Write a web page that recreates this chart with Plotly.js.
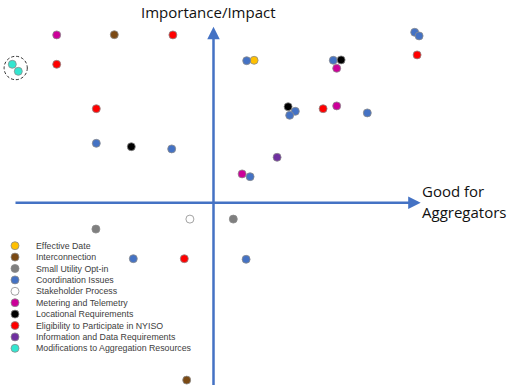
<!DOCTYPE html>
<html>
<head>
<meta charset="utf-8">
<script src="https://cdn.plot.ly/plotly-3.0.1.min.js"></script>
<style>html,body{margin:0;padding:0;background:#fff;}#chart{width:512px;height:385px;}</style>
</head>
<body>
<div id="chart"></div>
<script>
// Categories (legend order) and colours
const categories = [
  "Effective Date",
  "Interconnection",
  "Small Utility Opt-in",
  "Coordination Issues",
  "Stakeholder Process",
  "Metering and Telemetry",
  "Locational Requirements",
  "Eligibility to Participate in NYISO",
  "Information and Data Requirements",
  "Modifications to Aggregation Resources"
];
const colors = ["#FFC000","#7B4A14","#7F7F7F","#4472C4","#FFFFFF","#CC0099","#000000","#FF0000","#7030A0","#33E6D0"];

// x = Good for Aggregators, y = Importance/Impact
const effectiveX = [2.03];            const effectiveY = [7.12];
const interconnX = [-4.96, -1.34];    const interconnY = [8.40, -8.87];
const smallUtilX = [-5.88, 0.99];     const smallUtilY = [-1.32, -0.82];
const coordX = [1.66, -5.86, -2.09, 1.83, 10.06, 10.28, 5.99, 4.09, 3.81, 7.69, -4.01, 1.63];
const coordY = [7.10, 2.97, 2.69, 1.30, 8.52, 8.34, 7.12, 4.57, 4.37, 4.49, -2.80, -2.83];
const stakeX = [-1.18];               const stakeY = [-0.82];
const meterX = [-7.84, 1.43, 6.16, 6.16]; const meterY = [8.39, 1.44, 6.72, 4.84];
const locX = [-4.11, 6.38, 3.73];     const locY = [2.80, 7.14, 4.80];
const eligX = [-2.03, -7.84, -5.86, 10.18, 5.48, -1.46];
const eligY = [8.39, 6.92, 4.70, 7.39, 4.70, -2.80];
const infoX = [3.18];                 const infoY = [2.27];
const modX = [-10.06, -9.76];         const modY = [6.92, 6.57];

const seriesX = [effectiveX, interconnX, smallUtilX, coordX, stakeX, meterX, locX, eligX, infoX, modX];
const seriesY = [effectiveY, interconnY, smallUtilY, coordY, stakeY, meterY, locY, eligY, infoY, modY];

const xTitle = ["Good for", "Aggregators"];
const yTitle = "Importance/Impact";

const traces = [];
categories.forEach((c, i) => {
  traces.push({
    type: "scatter", mode: "markers", name: c,
    x: seriesX[i], y: seriesY[i],
    marker: {size: 8, color: colors[i], line: {color: "#8c8c8c", width: 0.8}},
    showlegend: false, hoverinfo: "skip"
  });
});

// Manual legend (compact), on an overlay axis in pixel-like units
const legX = 15, legTextX = 34, legTop = 245.7, legStep = 11.4;
traces.push({
  type: "scatter", mode: "markers", xaxis: "x2", yaxis: "y2",
  x: categories.map(() => legX),
  y: categories.map((c, i) => legTop + i * legStep),
  marker: {size: 8, color: colors, line: {color: "#8c8c8c", width: 0.8}},
  showlegend: false, hoverinfo: "skip"
});

const annotations = categories.map((c, i) => ({
  xref: "x2", yref: "y2", x: legTextX, y: legTop + i * legStep,
  text: c, showarrow: false, xanchor: "left", yanchor: "middle",
  font: {family: "Liberation Sans, Arial, sans-serif", size: 8.8, color: "#404040"}
}));

// Axes arrows
annotations.push({
  x: 10.36, y: 0, ax: -9.975, ay: 0, xref: "x", yref: "y", axref: "x", ayref: "y",
  text: "", showarrow: true, arrowhead: 2, arrowsize: 1, arrowwidth: 2.5, arrowcolor: "#4472C4"
});
annotations.push({
  x: 0, y: 8.8, ax: 0, ay: -9.3, xref: "x", yref: "y", axref: "x", ayref: "y",
  text: "", showarrow: true, arrowhead: 2, arrowsize: 1, arrowwidth: 2.5, arrowcolor: "#4472C4"
});
// Axis titles
annotations.push({
  xref: "x2", yref: "y2", x: 208, y: 12, text: yTitle, showarrow: false,
  xanchor: "center", yanchor: "middle",
  font: {family: "Open Sans, sans-serif", size: 15, color: "#111"}
});
annotations.push({
  xref: "x2", yref: "y2", x: 420, y: 191, text: xTitle[0], showarrow: false,
  xanchor: "left", yanchor: "middle",
  font: {family: "Open Sans, sans-serif", size: 15, color: "#111"}
});
annotations.push({
  xref: "x2", yref: "y2", x: 420, y: 212, text: xTitle[1], showarrow: false,
  xanchor: "left", yanchor: "middle",
  font: {family: "Open Sans, sans-serif", size: 15, color: "#111"}
});

const layout = {
  width: 512, height: 385,
  margin: {l: 0, r: 0, t: 0, b: 0},
  paper_bgcolor: "#fff", plot_bgcolor: "#fff",
  xaxis: {range: [-10.675, 14.925], visible: false, fixedrange: true},
  yaxis: {range: [-9.115, 10.135], visible: false, fixedrange: true},
  xaxis2: {range: [0, 512], visible: false, overlaying: "x", fixedrange: true},
  yaxis2: {range: [385, 0], visible: false, overlaying: "y", fixedrange: true},
  showlegend: false,
  annotations: annotations,
  shapes: [{
    type: "circle", xref: "x", yref: "y",
    x0: -10.47, x1: -9.31, y0: 6.15, y1: 7.32,
    line: {color: "#000", width: 0.8, dash: "3px,2px"}
  }]
};

Plotly.newPlot("chart", traces, layout, {staticPlot: true, displayModeBar: false});
</script>
</body>
</html>
